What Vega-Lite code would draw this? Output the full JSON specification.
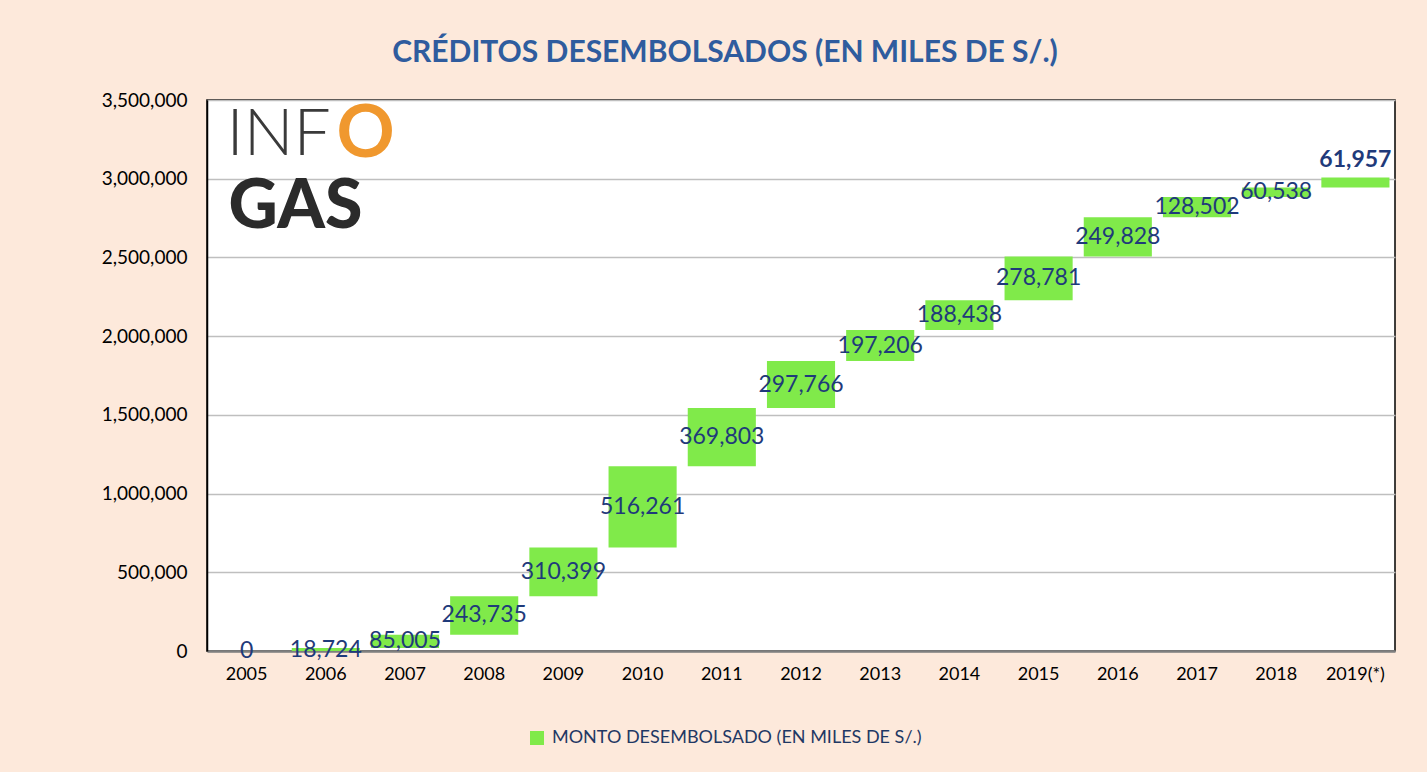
{
  "$schema": "https://vega.github.io/schema/vega-lite/v6.json",
  "autosize": {"type": "none"},
  "width": 1188,
  "height": 551,
  "padding": {"left": 207, "top": 100, "right": 32, "bottom": 121},
  "background": "#FDE9DB",
  "title": {
    "text": "CRÉDITOS DESEMBOLSADOS (EN MILES DE S/.)",
    "font": "Lato",
    "fontSize": 30,
    "fontWeight": "bold",
    "color": "#2F5C9E",
    "anchor": "middle",
    "dx": -76,
    "offset": 23
  },
  "config": {
    "view": {"fill": "white", "stroke": "#000000", "strokeWidth": 1.5},
    "font": "Lato",
    "axisY": {
      "labelExpr": "format(datum.value, ',')",
      "labelFont": "Lato",
      "labelFontSize": 19,
      "labelColor": "#000000",
      "labelPadding": 20,
      "ticks": false,
      "domainColor": "#000000",
      "domainWidth": 1.5,
      "gridColor": "#BFBFBF",
      "gridWidth": 1.5,
      "title": null
    }
  },
  "data": {
    "values": [
      {"anio": "2005", "monto": 0, "serie": "MONTO DESEMBOLSADO (EN MILES DE S/.)"},
      {"anio": "2006", "monto": 18724, "serie": "MONTO DESEMBOLSADO (EN MILES DE S/.)"},
      {"anio": "2007", "monto": 85005, "serie": "MONTO DESEMBOLSADO (EN MILES DE S/.)"},
      {"anio": "2008", "monto": 243735, "serie": "MONTO DESEMBOLSADO (EN MILES DE S/.)"},
      {"anio": "2009", "monto": 310399, "serie": "MONTO DESEMBOLSADO (EN MILES DE S/.)"},
      {"anio": "2010", "monto": 516261, "serie": "MONTO DESEMBOLSADO (EN MILES DE S/.)"},
      {"anio": "2011", "monto": 369803, "serie": "MONTO DESEMBOLSADO (EN MILES DE S/.)"},
      {"anio": "2012", "monto": 297766, "serie": "MONTO DESEMBOLSADO (EN MILES DE S/.)"},
      {"anio": "2013", "monto": 197206, "serie": "MONTO DESEMBOLSADO (EN MILES DE S/.)"},
      {"anio": "2014", "monto": 188438, "serie": "MONTO DESEMBOLSADO (EN MILES DE S/.)"},
      {"anio": "2015", "monto": 278781, "serie": "MONTO DESEMBOLSADO (EN MILES DE S/.)"},
      {"anio": "2016", "monto": 249828, "serie": "MONTO DESEMBOLSADO (EN MILES DE S/.)"},
      {"anio": "2017", "monto": 128502, "serie": "MONTO DESEMBOLSADO (EN MILES DE S/.)"},
      {"anio": "2018", "monto": 60538, "serie": "MONTO DESEMBOLSADO (EN MILES DE S/.)"},
      {"anio": "2019(*)", "monto": 61957, "serie": "MONTO DESEMBOLSADO (EN MILES DE S/.)"}
    ]
  },
  "transform": [
    {"window": [{"op": "sum", "field": "monto", "as": "fin"}], "sort": [{"field": "anio"}], "frame": [null, 0]},
    {"calculate": "datum.fin - datum.monto", "as": "inicio"},
    {"calculate": "datum.fin - datum.monto / 2", "as": "medio"}
  ],
  "encoding": {
    "x": {
      "field": "anio",
      "type": "nominal",
      "sort": null,
      "title": null,
      "scale": {"paddingInner": 0.14, "paddingOuter": 0.07},
      "axis": {
        "labelAngle": 0,
        "labelFont": "Lato",
        "labelFontSize": 18,
        "labelColor": "#000000",
        "labelPadding": 14,
        "ticks": false,
        "domainColor": "#7F7F7F",
        "domainWidth": 2.5,
        "grid": false
      }
    }
  },
  "layer": [
    {
      "mark": {"type": "bar"},
      "encoding": {
        "y": {
          "field": "inicio",
          "type": "quantitative",
          "title": null,
          "scale": {"domain": [0, 3500000], "nice": false},
          "axis": {"values": [0, 500000, 1000000, 1500000, 2000000, 2500000, 3000000, 3500000]}
        },
        "y2": {"field": "fin"},
        "color": {
          "field": "serie",
          "type": "nominal",
          "scale": {"range": ["#80EA4A"]},
          "legend": {
            "title": null,
            "orient": "none",
            "legendX": 321,
            "legendY": 629,
            "symbolType": "square",
            "symbolSize": 196,
            "symbolStrokeWidth": 0,
            "labelFont": "Lato",
            "labelFontSize": 18,
            "labelColor": "#1F3864",
            "labelOffset": 6,
            "labelLimit": 600
          }
        }
      }
    },
    {
      "transform": [{"filter": "datum.anio != '2019(*)'"}],
      "mark": {"type": "text", "font": "Lato", "fontSize": 23, "color": "#1F3A7A", "baseline": "middle"},
      "encoding": {
        "y": {"field": "medio", "type": "quantitative", "title": null},
        "text": {"field": "monto", "type": "quantitative", "format": ","}
      }
    },
    {
      "transform": [{"filter": "datum.anio == '2019(*)'"}],
      "mark": {"type": "text", "font": "Lato", "fontSize": 23, "fontWeight": "bold", "color": "#1F3A7A", "baseline": "bottom", "dy": -6},
      "encoding": {
        "y": {"field": "fin", "type": "quantitative", "title": null},
        "text": {"field": "monto", "type": "quantitative", "format": ","}
      }
    },
    {
      "data": {"values": [{"logo": "INF"}]},
      "mark": {"type": "text", "font": "Lato", "fontSize": 66, "fontWeight": 300, "color": "#3A3A3A", "align": "left", "baseline": "middle", "dx": -20},
      "encoding": {
        "x": {"datum": "2005"},
        "y": {"datum": 3280000, "type": "quantitative"},
        "text": {"field": "logo"}
      }
    },
    {
      "data": {"values": [{"logo": "O"}]},
      "mark": {"type": "text", "font": "Lato", "fontSize": 72, "fontWeight": "bold", "color": "#F0982E", "align": "left", "baseline": "middle", "dx": 90},
      "encoding": {
        "x": {"datum": "2005"},
        "y": {"datum": 3280000, "type": "quantitative"},
        "text": {"field": "logo"}
      }
    },
    {
      "data": {"values": [{"logo": "GAS"}]},
      "mark": {"type": "text", "font": "Lato", "fontSize": 68, "fontWeight": 900, "color": "#2B2B2B", "align": "left", "baseline": "middle", "dx": -18},
      "encoding": {
        "x": {"datum": "2005"},
        "y": {"datum": 2815000, "type": "quantitative"},
        "text": {"field": "logo"}
      }
    }
  ]
}
